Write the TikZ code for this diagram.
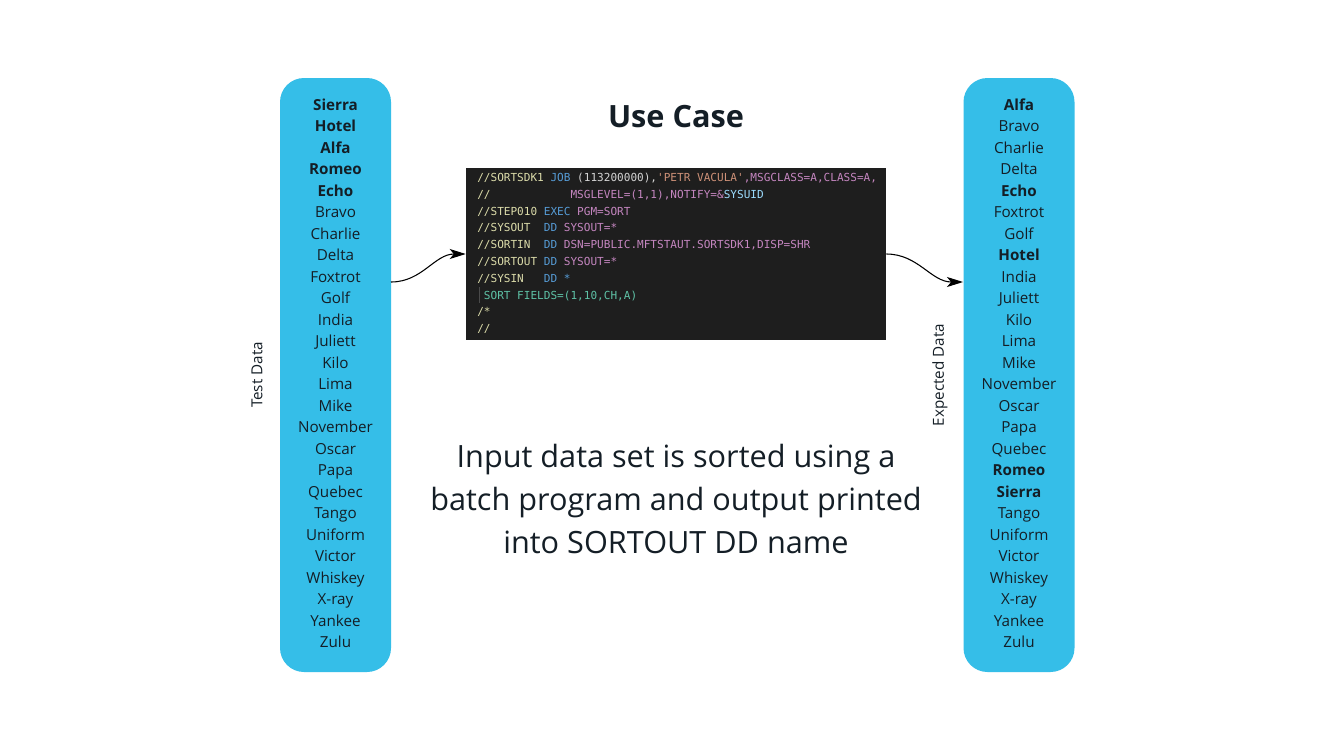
\documentclass[tikz,border=0pt]{standalone}
\usepackage{fontspec}
\setmainfont{Open Sans}
\setmonofont{DejaVu Sans Mono}
\usepackage{tikz}
\usetikzlibrary{arrows.meta,positioning}
\definecolor{listblue}{HTML}{35BEE8}
\definecolor{listink}{HTML}{141E26}
\definecolor{codebg}{HTML}{1E1E1E}
\definecolor{jname}{HTML}{DCDCAA}
\definecolor{jop}{HTML}{569CD6}
\definecolor{jparm}{HTML}{C586C0}
\definecolor{jstr}{HTML}{CE9178}
\definecolor{jtxt}{HTML}{D4D4D4}
\definecolor{jvar}{HTML}{9CDCFE}
\definecolor{jsort}{HTML}{5EC2A6}
\definecolor{jguide}{HTML}{4A4A4A}

\begin{document}
\begin{tikzpicture}[
      x=0.75pt,y=-0.75pt,
      listbox/.style={draw=none,fill=listblue,rounded corners=18pt,minimum width=83.25pt,minimum height=445.5pt},
      item/.style={anchor=base,text=listink,font=\fontsize{11.4pt}{13pt}\selectfont,inner sep=0pt},
      sidelabel/.style={rotate=90,text=listink,font=\fontsize{11.4pt}{13pt}\selectfont},
      codeline/.style={anchor=base west,inner sep=0pt,font=\ttfamily\fontsize{8.3pt}{10pt}\selectfont},
      flow/.style={-{Stealth[length=12pt,width=7.5pt,inset=3pt]},thick,black}
    ]
    \useasboundingbox[fill=white] (0,0) rectangle (1333,750);

    % data lists
    \node[listbox] (testbox) at (335.5,375) {};
    \node[listbox] (expbox) at (1019,375) {};
    \foreach \w [count=\i] in {\textbf{Sierra},\textbf{Hotel},\textbf{Alfa},\textbf{Romeo},\textbf{Echo},Bravo,Charlie,Delta,Foxtrot,Golf,India,Juliett,Kilo,Lima,Mike,November,Oscar,Papa,Quebec,Tango,Uniform,Victor,Whiskey,X-ray,Yankee,Zulu}{
      \node[item] (t\i) at (335.5,{110.5+(\i-1)*21.48}) {\w};
    }
    \foreach \w [count=\i] in {\textbf{Alfa},Bravo,Charlie,Delta,\textbf{Echo},Foxtrot,Golf,\textbf{Hotel},India,Juliett,Kilo,Lima,Mike,November,Oscar,Papa,Quebec,\textbf{Romeo},\textbf{Sierra},Tango,Uniform,Victor,Whiskey,X-ray,Yankee,Zulu}{
      \node[item] (e\i) at (1019,{110.5+(\i-1)*21.48}) {\w};
    }
    \node[sidelabel] (testlbl) at (257,375) {Test Data};
    \node[sidelabel] (explbl) at (940,375) {Expected Data};

    \node[font=\bfseries\fontsize{23pt}{26pt}\selectfont,text=listink] (title) at (676,117) {Use Case};

    % JCL listing
    \node[fill=codebg,minimum width=315pt,minimum height=129pt,inner sep=0pt] (codebox) at (676,254) {};
    \draw[jguide,line width=0.6pt] (479.5,287) -- (479.5,303);
    \foreach \ln [count=\k] in {
      {\textcolor{jname}{//SORTSDK1}~\textcolor{jop}{JOB}~\textcolor{jtxt}{(113200000),}\textcolor{jstr}{'PETR~VACULA'}\textcolor{jparm}{,MSGCLASS=A,CLASS=A,}},
      {\textcolor{jname}{//}~~~~~~~~~~~~\textcolor{jparm}{MSGLEVEL=(1,1),NOTIFY=\&}\textcolor{jvar}{SYSUID}},
      {\textcolor{jname}{//STEP010}~\textcolor{jop}{EXEC}~\textcolor{jparm}{PGM=SORT}},
      {\textcolor{jname}{//SYSOUT}~~\textcolor{jop}{DD}~\textcolor{jparm}{SYSOUT=*}},
      {\textcolor{jname}{//SORTIN}~~\textcolor{jop}{DD}~\textcolor{jparm}{DSN=PUBLIC.MFTSTAUT.SORTSDK1,DISP=SHR}},
      {\textcolor{jname}{//SORTOUT}~\textcolor{jop}{DD}~\textcolor{jparm}{SYSOUT=*}},
      {\textcolor{jname}{//SYSIN}~~~\textcolor{jop}{DD~*}},
      {~\textcolor{jsort}{SORT~FIELDS=(1,10,CH,A)}},
      {\textcolor{jname}{/*}},
      {\textcolor{jname}{//}}}{
      \node[codeline] (code\k) at (477,{181.5+(\k-1)*16.8}) {\ln};
    }

    \coordinate (tout) at (391,282);
    \coordinate (ein) at (963,282);
    \draw[flow] (tout) to[out=0,in=180] (codebox.west);
    \draw[flow] (codebox.east) to[out=0,in=180] (ein);

    \node[align=center,text=listink,font=\fontsize{23pt}{32.6pt}\selectfont] (caption) at (676,499)
      {Input data set is sorted using a\\batch program and output printed\\into SORTOUT DD name};
  \end{tikzpicture}
\end{document}
